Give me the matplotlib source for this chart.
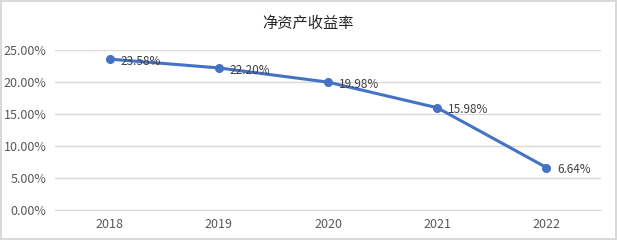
import matplotlib.pyplot as plt
from matplotlib.ticker import FuncFormatter

plt.rcParams['font.family'] = ['Noto Sans CJK SC', 'DejaVu Sans']

years = ['2018', '2019', '2020', '2021', '2022']
roe = [23.58, 22.20, 19.98, 15.98, 6.64]
title = '净资产收益率'

fig = plt.figure(figsize=(6.17, 2.40), dpi=100)
fig.patch.set_edgecolor('#d9d9d9')
fig.patch.set_linewidth(1.5)
ax = fig.add_axes([55 / 617, 30 / 240, 546 / 617, 160 / 240])

x = list(range(len(years)))
ax.plot(x, roe, color='#4472C4', linewidth=2.2, marker='o', markersize=5.5, zorder=3)
for xi, v in zip(x, roe):
    ax.annotate(f'{v:.2f}%', (xi, v), xytext=(8, -1.5), textcoords='offset points',
                ha='left', va='center', fontsize=8.5, color='#404040')

ax.set_xlim(-0.5, len(years) - 0.5)
ax.set_ylim(0, 25)
ax.set_yticks([0, 5, 10, 15, 20, 25])
ax.yaxis.set_major_formatter(FuncFormatter(lambda v, p: f'{v:.2f}%'))
ax.set_xticks(x)
ax.set_xticklabels(years)
ax.tick_params(axis='both', length=0, labelsize=9, colors='#595959', pad=6)
ax.grid(axis='y', color='#d9d9d9', linewidth=1)
ax.set_axisbelow(True)
for s in ['top', 'right', 'left']:
    ax.spines[s].set_visible(False)
ax.spines['bottom'].set_color('#d9d9d9')

fig.suptitle(title, y=1 - 23 / 240, va='center', fontsize=11, color='#262626')

fig.savefig('out.png', dpi=100, edgecolor=fig.get_edgecolor())
